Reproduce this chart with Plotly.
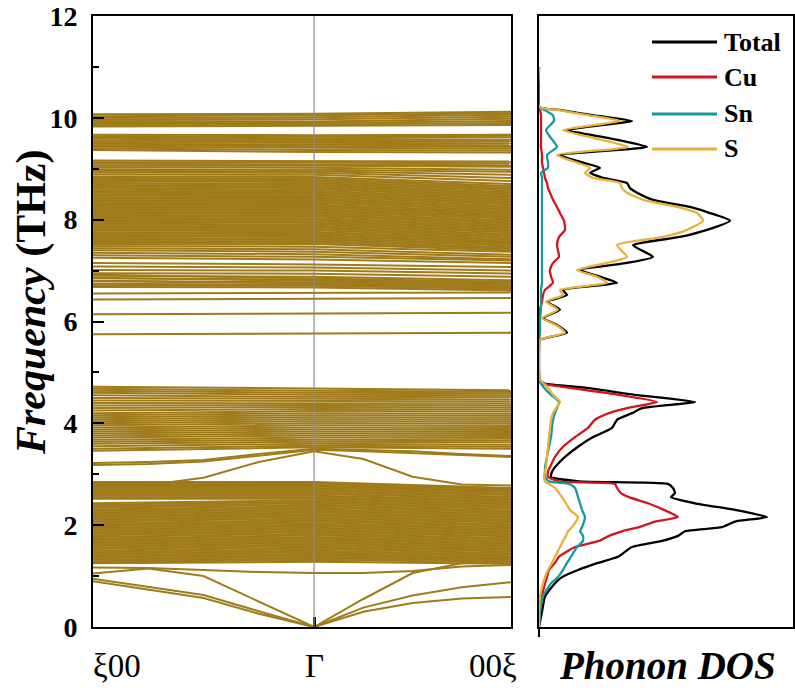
import plotly.graph_objects as go

# ---------------- Band structure data (THz) ----------------
# k-path: xi00 (0) -> Gamma (1.0) -> 00xi (1.891)
k_labels = ["ξ00", "Γ", "00ξ"]
k_flat = [0.0, 1.0, 1.891]
k_curve = [0.0, 0.25, 0.5, 0.75, 1.0, 1.223, 1.446, 1.668, 1.891]

band_left = [
    10.07, 10.03, 10.00, 9.97, 9.94, 9.90, 9.86, 9.83,
    9.67, 9.64, 9.62, 9.59, 9.55, 9.52, 9.49, 9.46, 9.43, 9.40, 9.37,
    9.16, 9.13, 9.10, 9.06, 9.03, 8.99, 8.96, 8.93, 8.89,
    8.85, 8.82, 8.78, 8.74, 8.70, 8.67, 8.64, 8.61, 8.58, 8.55, 8.53, 8.50, 8.47, 8.44, 8.41,
    8.38, 8.35, 8.32, 8.29, 8.26, 8.23, 8.20, 8.17, 8.14, 8.11, 8.08, 8.05, 8.02, 7.99, 7.96,
    7.93, 7.90, 7.87, 7.84, 7.81, 7.78, 7.75, 7.72, 7.69, 7.66, 7.63, 7.60, 7.57, 7.54, 7.51,
    7.48, 7.44, 7.40, 7.35, 7.30, 7.25, 7.15, 7.08, 7.01, 6.95, 6.90, 6.85, 6.80, 6.74, 6.68,
    6.92, 6.86, 6.79, 6.71,
    6.55, 6.43, 6.14, 5.75,
    4.72, 4.68, 4.64, 4.60, 4.55, 4.50, 4.45, 4.40, 4.35, 4.30, 4.25, 4.20, 4.16, 4.12, 4.08,
    4.04, 4.00, 3.96, 3.92, 3.88, 3.84, 3.80, 3.76, 3.72, 3.68, 3.64, 3.60, 3.55, 3.50, 3.46,
    2.85, 2.82, 2.79, 2.76, 2.73, 2.70, 2.67, 2.64, 2.61, 2.58, 2.55, 2.52,
    2.43, 2.40, 2.37, 2.34, 2.31, 2.28, 2.25, 2.22, 2.19, 2.16, 2.13, 2.10, 2.07, 2.04, 2.01,
    1.98, 1.95, 1.92, 1.89, 1.86, 1.83, 1.80, 1.77, 1.74, 1.71, 1.68, 1.65, 1.62, 1.59, 1.56,
    1.53, 1.50, 1.47, 1.44, 1.41, 1.38, 1.35, 1.32, 1.29, 1.27, 1.25,
]
band_gamma = [
    10.08, 10.05, 10.01, 9.97, 9.93, 9.90, 9.87, 9.84,
    9.66, 9.63, 9.60, 9.57, 9.54, 9.51, 9.48, 9.45, 9.41, 9.37, 9.33,
    9.15, 9.12, 9.09, 9.06, 9.02, 8.98, 8.95, 8.92, 8.88,
    8.84, 8.81, 8.78, 8.75, 8.72, 8.69, 8.66, 8.63, 8.60, 8.57, 8.54, 8.51, 8.48, 8.45, 8.42,
    8.39, 8.36, 8.33, 8.30, 8.27, 8.24, 8.21, 8.18, 8.15, 8.12, 8.09, 8.06, 8.03, 8.00, 7.97,
    7.94, 7.91, 7.88, 7.85, 7.82, 7.79, 7.76, 7.73, 7.70, 7.67, 7.64, 7.61, 7.58, 7.55, 7.52,
    7.47, 7.42, 7.37, 7.32, 7.27, 7.22, 7.12, 7.06, 7.00, 6.94, 6.88, 6.82, 6.77, 6.72, 6.67,
    6.85, 6.80, 6.75, 6.70,
    6.56, 6.45, 6.15, 5.77,
    4.68, 4.64, 4.60, 4.56, 4.52, 4.48, 4.44, 4.40, 4.36, 4.32, 4.28, 4.24, 4.20, 4.16, 4.12,
    4.08, 4.04, 4.00, 3.96, 3.92, 3.88, 3.84, 3.80, 3.76, 3.72, 3.68, 3.64, 3.60, 3.56, 3.53,
    2.85, 2.82, 2.79, 2.76, 2.73, 2.70, 2.67, 2.64, 2.61, 2.58, 2.55, 2.52,
    2.49, 2.46, 2.43, 2.40, 2.37, 2.34, 2.31, 2.28, 2.25, 2.22, 2.19, 2.16, 2.13, 2.10, 2.07,
    2.04, 2.01, 1.98, 1.95, 1.92, 1.89, 1.86, 1.83, 1.80, 1.77, 1.74, 1.71, 1.68, 1.65, 1.62,
    1.59, 1.56, 1.53, 1.50, 1.47, 1.44, 1.41, 1.38, 1.35, 1.32, 1.28,
]
band_right = [
    10.12, 10.09, 10.06, 10.02, 9.98, 9.94, 9.90, 9.86,
    9.67, 9.65, 9.62, 9.57, 9.54, 9.50, 9.46, 9.43, 9.40, 9.36, 9.32,
    9.14, 9.11, 9.07, 9.04, 8.98, 8.94, 8.88, 8.82, 8.76,
    8.70, 8.66, 8.63, 8.60, 8.57, 8.54, 8.51, 8.48, 8.45, 8.42, 8.39, 8.36, 8.33, 8.30, 8.27,
    8.24, 8.21, 8.18, 8.15, 8.12, 8.10, 8.07, 8.05, 8.02, 7.99, 7.96, 7.93, 7.90, 7.87, 7.84,
    7.81, 7.78, 7.75, 7.72, 7.69, 7.66, 7.63, 7.60, 7.57, 7.55, 7.52, 7.49, 7.46, 7.43, 7.40,
    7.37, 7.31, 7.27, 7.22, 7.20, 7.15, 7.07, 7.00, 6.94, 6.88, 6.81, 6.76, 6.71, 6.66, 6.61,
    6.78, 6.73, 6.68, 6.64,
    6.57, 6.46, 6.17, 5.78,
    4.65, 4.62, 4.59, 4.55, 4.51, 4.47, 4.43, 4.39, 4.35, 4.31, 4.27, 4.23, 4.19, 4.15, 4.11,
    4.07, 4.03, 3.99, 3.95, 3.91, 3.87, 3.83, 3.79, 3.75, 3.71, 3.67, 3.63, 3.58, 3.54, 3.50,
    2.73, 2.71, 2.69, 2.67, 2.65, 2.62, 2.59, 2.56, 2.53, 2.50, 2.47, 2.44,
    2.41, 2.38, 2.35, 2.32, 2.29, 2.26, 2.23, 2.20, 2.17, 2.14, 2.11, 2.08, 2.05, 2.02, 1.99,
    1.96, 1.93, 1.90, 1.87, 1.84, 1.81, 1.78, 1.75, 1.72, 1.69, 1.66, 1.63, 1.60, 1.57, 1.54,
    1.51, 1.48, 1.45, 1.42, 1.39, 1.36, 1.34, 1.32, 1.30, 1.27, 1.24,
]

# dispersive branches sampled on k_curve
band_TA1 = [0.95, 0.79, 0.63, 0.31, 0.0, 0.38, 0.62, 0.78, 0.88]
band_TA2 = [0.90, 0.74, 0.57, 0.26, 0.0, 0.30, 0.47, 0.56, 0.59]
band_LA = [1.05, 1.15, 1.00, 0.50, 0.0, 0.55, 1.06, 1.25, 1.28]
band_low_opt = [1.17, 1.16, 1.12, 1.08, 1.06, 1.06, 1.10, 1.19, 1.22]
band_gap_cross = [2.78, 2.79, 2.93, 3.24, 3.45, 3.30, 2.95, 2.80, 2.78]
band_mid_a = [3.22, 3.24, 3.28, 3.40, 3.50, 3.48, 3.45, 3.40, 3.36]
band_mid_b = [3.18, 3.20, 3.25, 3.36, 3.48, 3.45, 3.42, 3.38, 3.34]

# ---------------- Phonon DOS data (arb. units) ----------------
dos_freq = [0.00, 0.30, 0.60, 0.86, 0.98, 1.12, 1.26, 1.38, 1.57, 1.69,
            1.79, 1.88, 1.96, 2.07, 2.16, 2.30, 2.43, 2.55, 2.63, 2.73,
            2.81, 2.86, 2.95, 3.05, 3.14, 3.34, 3.54, 3.73, 3.91, 4.07,
            4.20, 4.30, 4.42, 4.56, 4.70, 4.78, 4.85, 5.00, 5.50, 5.64,
            5.78, 5.93, 6.07, 6.23, 6.39, 6.52, 6.62, 6.76, 6.88, 7.01,
            7.15, 7.27, 7.50, 7.66, 7.80, 7.98, 8.13, 8.25, 8.39, 8.53,
            8.62, 8.72, 8.82, 8.92, 9.02, 9.12, 9.27, 9.43, 9.60, 9.76,
            9.94, 10.05, 10.15, 10.22, 11.00]
dos_total = [0, 3, 6, 16, 23, 39, 59, 79, 93, 123,
             139, 146, 183, 196, 228, 196, 156, 132, 136, 134,
             129, 40, 12, 13, 16, 26, 39, 54, 73, 78,
             93, 103, 156, 96, 46, 6, 1, 0, 0, 1,
             28, 18, 4, 21, 8, 28, 24, 78, 61, 41,
             88, 114, 94, 141, 168, 191, 171, 151, 114, 98,
             91, 88, 64, 51, 61, 44, 21, 108, 70, 28,
             93, 55, 22, 0, 0]
dos_cu = [0, 1, 3, 6, 8, 10, 16, 20, 36, 60,
          70, 83, 100, 116, 139, 125, 109, 90, 82, 78,
          76, 20, 9, 9, 11, 16, 24, 36, 49, 56,
          70, 88, 118, 80, 29, 3, 0, 0, 0, 0,
          0.5, 0.5, 0.5, 1, 3, 4, 6, 14, 12, 11,
          14, 20, 18, 20, 26, 25, 21, 18, 14, 11,
          9, 8, 6, 5, 4, 3, 3, 2, 2, 2,
          2, 2, 1, 0, 0]
dos_sn = [0, 1, 4, 12, 19, 24, 28, 32, 38, 44,
          44, 41, 43, 45, 46, 43, 41, 39, 38, 36,
          30, 10, 6, 6, 6, 8, 10, 12, 13, 14,
          16, 18, 20, 12, 5, 2, 0, 0, 0, 0,
          1, 1, 1, 2, 2, 2, 2, 3, 3, 3,
          3, 3, 3, 3, 3, 3, 3, 3, 3, 3,
          3, 3, 3, 2, 9, 9, 8, 18, 12, 7,
          15, 14, 6, 0, 0]
dos_s = [0, 0, 1, 4, 6, 9, 13, 16, 21, 24,
         27, 29, 33, 37, 39, 31, 27, 23, 20, 16,
         10, 6, 5, 6, 7, 8, 9, 10, 11, 12,
         14, 17, 21, 14, 9, 5, 1, 0, 0, 1,
         26, 17, 3, 19, 7, 24, 21, 68, 58, 38,
         68, 88, 78, 124, 148, 164, 158, 138, 104, 88,
         83, 81, 54, 46, 51, 38, 18, 89, 55, 24,
         81, 50, 20, 0, 0]

series_names = ["Total", "Cu", "Sn", "S"]
series_colors = ["#000000", "#d0161e", "#17999a", "#e8b13c"]
band_color = "#a07b1a"

# body margin is removed by post_script so the figure fills the window
W, H = 795, 695
def px(x):
    return x / W
def py(y):
    return 1 - y / H

fig = go.Figure()

# bands: one trace, segments separated by None
bx, by = [], []
for l, g, r in zip(band_left, band_gamma, band_right):
    bx += k_flat + [None]
    by += [l, g, r, None]
for b in [band_TA1, band_TA2, band_LA, band_low_opt, band_gap_cross, band_mid_a, band_mid_b]:
    bx += k_curve + [None]
    by += b + [None]
fig.add_trace(go.Scatter(x=bx, y=by, mode="lines", line=dict(color=band_color, width=2.0),
                         xaxis="x", yaxis="y", showlegend=False, hoverinfo="skip"))

dos_series = [dos_total, dos_cu, dos_sn, dos_s]
for name, col, vals in zip(series_names, series_colors, dos_series):
    fig.add_trace(go.Scatter(x=vals, y=dos_freq, mode="lines", name=name,
                             line=dict(color=col, width=2.3, shape="spline", smoothing=0.5),
                             xaxis="x2", yaxis="y2"))

ydom = [py(627), py(16)]
axis_common = dict(showline=True, mirror=True, linecolor="black", linewidth=2,
                   showgrid=False, zeroline=False, automargin=False)
fig.update_layout(
    width=W, height=H, margin=dict(l=0, r=0, t=0, b=0, pad=0, autoexpand=False),
    plot_bgcolor="white", paper_bgcolor="white", showlegend=False,
    xaxis=dict(domain=[px(93), px(511)], range=[0, 1.891], anchor="y",
               ticks="inside", tickvals=[1.0], ticklen=10, tickwidth=3, tickcolor="black",
               showticklabels=False, **axis_common),
    yaxis=dict(domain=ydom, range=[0, 12], anchor="x",
               tickvals=[0, 2, 4, 6, 8, 10, 12], ticks="inside", ticklen=11, tickwidth=2,
               tickcolor="black", ticklabelstandoff=8, ticklabeloverflow="allow",
               minor=dict(tickvals=[1, 3, 5, 7, 9, 11], ticks="inside", ticklen=6,
                          tickwidth=2, tickcolor="black"),
               tickfont=dict(family="Liberation Serif", size=28, color="black", weight="bold"),
               **axis_common),
    xaxis2=dict(domain=[px(539), px(793)], range=[0, 254], anchor="y2",
                ticks="", showticklabels=False, **axis_common),
    yaxis2=dict(domain=ydom, range=[0, 12], anchor="x2",
                ticks="", showticklabels=False, **axis_common),
)

# Gamma vertical line
fig.add_shape(type="line", xref="x", yref="y", x0=1.0, x1=1.0, y0=0, y1=12,
              line=dict(color="#8c8c8c", width=1.2), layer="above")
# small extension of DOS left spine below the frame
fig.add_shape(type="line", xref="paper", yref="paper", x0=px(539), x1=px(539),
              y0=py(627), y1=py(637), line=dict(color="black", width=2))

ann_font = dict(family="Liberation Serif", color="black")
def label(x, y, text, size, angle=0, xanchor="center"):
    fig.add_annotation(x=px(x), y=py(y), xref="paper", yref="paper", text=text,
                       textangle=angle, showarrow=False, xanchor=xanchor, yanchor="middle",
                       font=dict(size=size, **ann_font))

label(31, 303, "<b><i>Frequency</i> (THz)</b>", 42, angle=-90)
for lab, xx in zip(k_labels, [117, 314, 493]):
    label(xx, 666, lab, 33)
label(667, 665, "<b><i>Phonon DOS</i></b>", 39)

# legend drawn manually
for i, (name, col) in enumerate(zip(series_names, series_colors)):
    yy = [42, 77, 114, 149][i]
    fig.add_shape(type="line", xref="paper", yref="paper", x0=px(652), x1=px(717),
                  y0=py(yy), y1=py(yy), line=dict(color=col, width=3))
    label(722, yy, "<b>" + name + "</b>", 26, xanchor="left")

fig.write_html("out.html", config={"displayModeBar": False},
               post_script="document.body.style.margin='0px';document.body.style.overflow='hidden';")
